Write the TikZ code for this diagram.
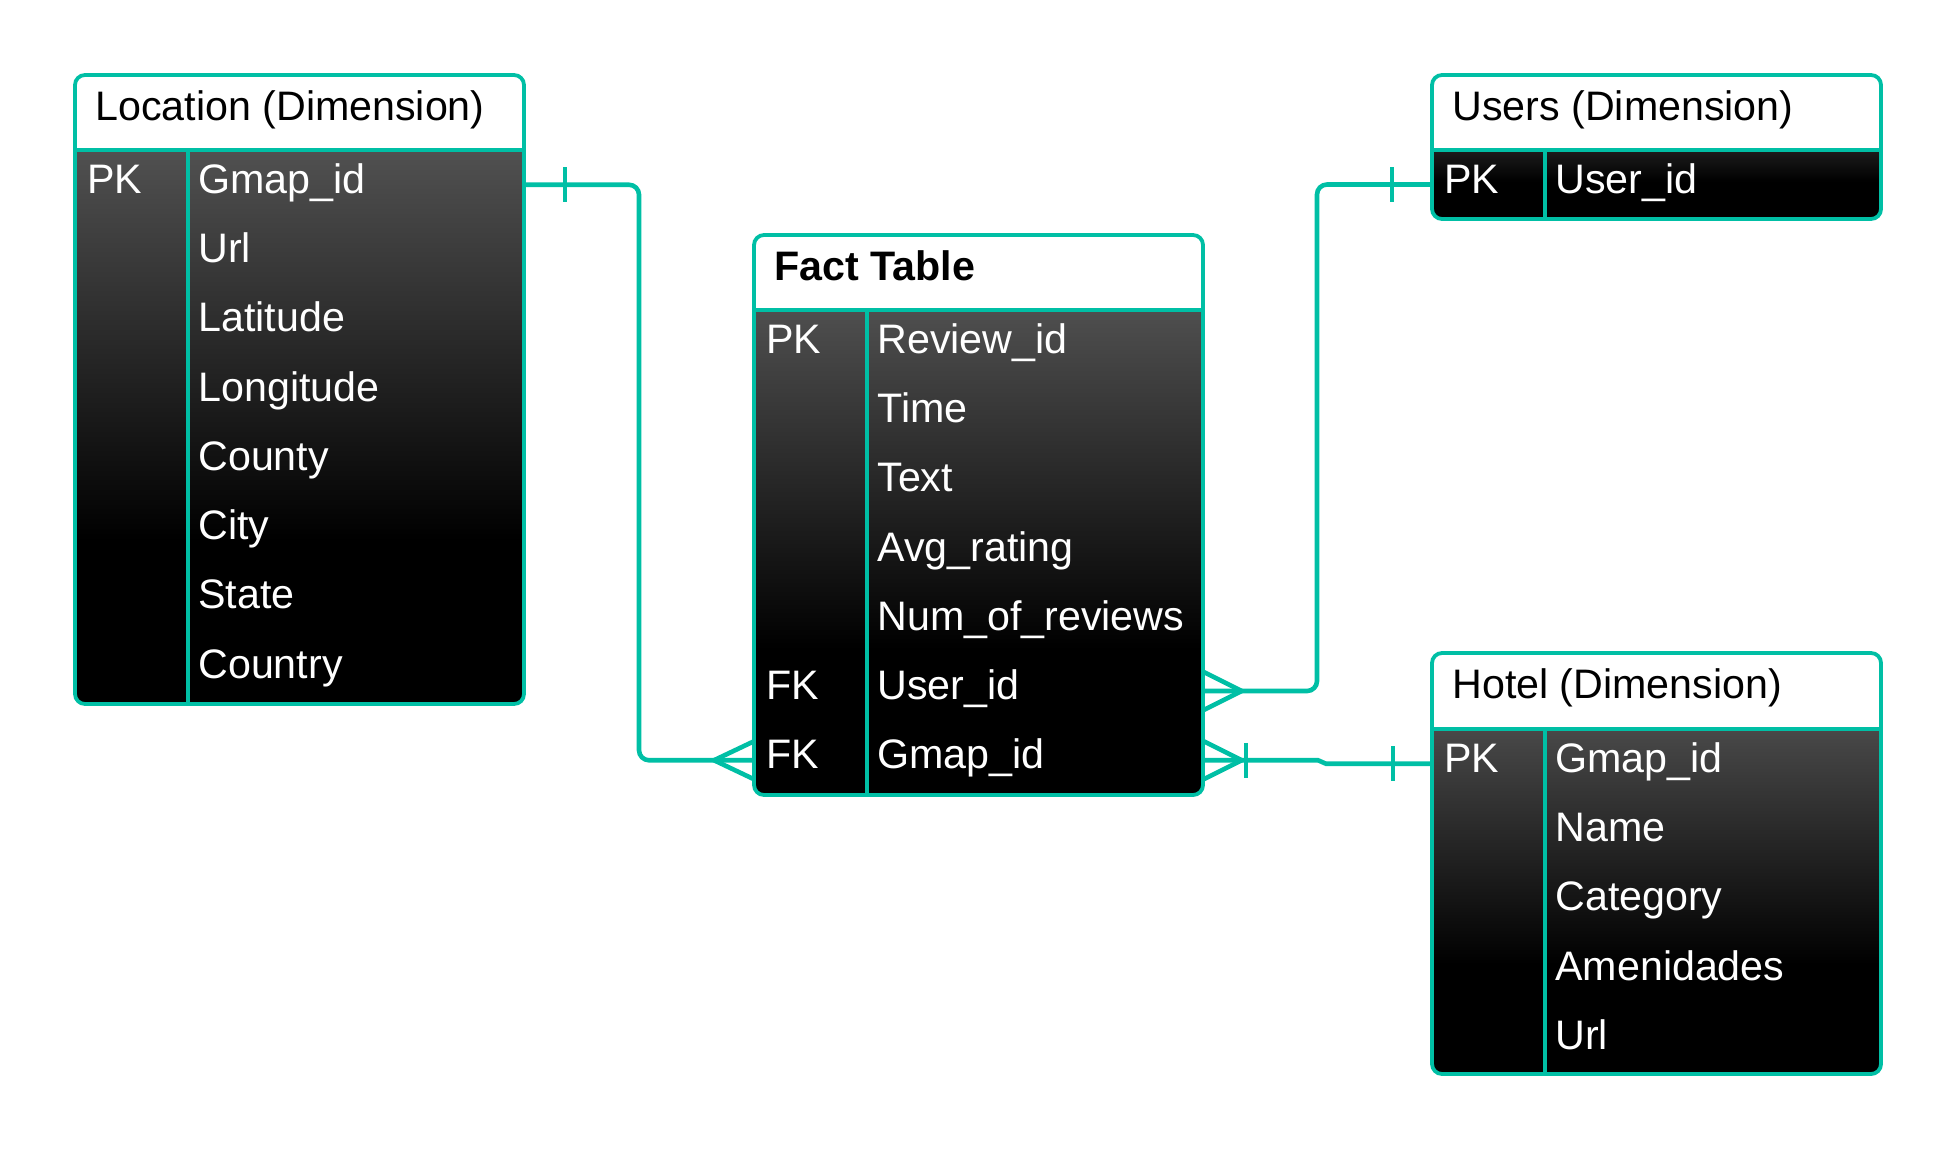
\documentclass[tikz,border=0pt]{standalone}
\usepackage{fontspec}
\setmainfont{Liberation Sans}
\usetikzlibrary{calc}
\definecolor{ERteal}{HTML}{00BFA5}
\definecolor{ERgray}{HTML}{606060}
\pgfdeclareverticalshading{erbody}{100bp}{color(0bp)=(black); color(25bp)=(black);
 color(38bp)=(black); color(75bp)=(ERgray); color(100bp)=(ERgray)}
\tikzset{erframe/.style={draw=ERteal,line width=1.9pt,rounded corners=5pt},
 errule/.style={draw=ERteal,line width=1.9pt},
 ertitle/.style={anchor=west,inner xsep=10pt,text height=13.5pt,text depth=6pt,
 font=\fontsize{20.6}{24}\selectfont},
 erkey/.style={anchor=west,inner xsep=6pt,inner ysep=0pt,text width=44.5pt,align=left,
 text=white,text height=14pt,text depth=5.5pt,font=\fontsize{20.6}{24}\selectfont},
 erfield/.style={erkey,inner xsep=5pt,text width=158pt},
 erlink/.style={draw=ERteal,line width=2.3pt,rounded corners=5pt}}

\begin{document}
\begin{tikzpicture}[x=0.5pt,y=-0.5pt]
\useasboundingbox (0,0) rectangle (1958,1151);
% Location (Dimension)
\begin{scope}
 \clip[rounded corners=5pt] (75,75) rectangle (524,704);
 \clip (75,150) rectangle (524,704);
 \shade[shading=erbody] (75,75) rectangle (524,704);
\end{scope}
\draw[erframe] (75,75) rectangle (524,704);
\draw[errule] (75,150) -- (524,150) (188,150) -- (188,704);
\node[ertitle] (loc) at (75,112.5) {Location (Dimension)};
\foreach \k/\f [count=\i] in {PK/Gmap\_id,/Url,/Latitude,/Longitude,/County,/City,/State,/Country}{
 \node[erkey] (loc-k\i) at (75,115.5+69.25*\i) {\k};
 \node[erfield] (loc-f\i) at (188,115.5+69.25*\i) {\f};
}
% Fact Table
\begin{scope}
 \clip[rounded corners=5pt] (754,235) rectangle (1203,795);
 \clip (754,310) rectangle (1203,795);
 \shade[shading=erbody] (754,235) rectangle (1203,795);
\end{scope}
\draw[erframe] (754,235) rectangle (1203,795);
\draw[errule] (754,310) -- (1203,310) (867,310) -- (867,795);
\node[ertitle] (fact) at (754,272.5) {\textbf{Fact Table}};
\foreach \k/\f [count=\i] in {PK/Review\_id,/Time,/Text,/Avg\_rating,/Num\_of\_reviews,FK/User\_id,FK/Gmap\_id}{
 \node[erkey] (fact-k\i) at (754,275.5+69.25*\i) {\k};
 \node[erfield] (fact-f\i) at (867,275.5+69.25*\i) {\f};
}
% Users (Dimension)
\begin{scope}
 \clip[rounded corners=5pt] (1432,75) rectangle (1881,219);
 \clip (1432,150) rectangle (1881,219);
 \shade[shading=erbody] (1432,75) rectangle (1881,219);
\end{scope}
\draw[erframe] (1432,75) rectangle (1881,219);
\draw[errule] (1432,150) -- (1881,150) (1545,150) -- (1545,219);
\node[ertitle] (usr) at (1432,112.5) {Users (Dimension)};
\node[erkey] (usr-k1) at (1432,184.5) {PK};
\node[erfield] (usr-f1) at (1545,184.5) {User\_id};
% Hotel (Dimension)
\begin{scope}
 \clip[rounded corners=5pt] (1432,653) rectangle (1881,1074);
 \clip (1432,729) rectangle (1881,1074);
 \shade[shading=erbody] (1432,653) rectangle (1881,1074);
\end{scope}
\draw[erframe] (1432,653) rectangle (1881,1074);
\draw[errule] (1432,729) -- (1881,729) (1545,729) -- (1545,1074);
\node[ertitle] (hot) at (1432,691) {Hotel (Dimension)};
\foreach \k/\f [count=\i] in {PK/Gmap\_id,/Name,/Category,/Amenidades,/Url}{
 \node[erkey] (hot-k\i) at (1432,694.5+69.25*\i) {\k};
 \node[erfield] (hot-f\i) at (1545,694.5+69.25*\i) {\f};
}
% relations
\coordinate (bendA) at (639,0);
\coordinate (bendB) at (1317,0);
\coordinate (bendC) at (1318,0);
\draw[erlink] (loc-f1.east) -| (bendA |- fact-k7.west) -- (fact-k7.west);
\draw[erlink] (loc-f1.east) ++(40,-17.5) -- ++(0,35);
\draw[erlink,sharp corners] (fact-k7.west) ++(0,-19) -- ++(-40,19) -- ++(40,19);
\draw[erlink] (usr-k1.west) -| (bendB |- fact-f6.east) -- (fact-f6.east);
\draw[erlink] (usr-k1.west) ++(-40,-17.5) -- ++(0,35);
\draw[erlink,sharp corners] (fact-f6.east) ++(0,-19) -- ++(38,19) -- ++(-38,19);
\draw[erlink,sharp corners] (fact-f7.east) -- (bendC |- fact-f7.east)
 -- ([xshift=4pt]bendC |- hot-k1.west) -- (hot-k1.west);
\draw[erlink,sharp corners] (fact-f7.east) ++(0,-19) -- ++(38,19) -- ++(-38,19);
\draw[erlink] (fact-f7.east) ++(42,-17.5) -- ++(0,35);
\draw[erlink] (hot-k1.west) ++(-39,-17.5) -- ++(0,35);
\end{tikzpicture}
\end{document}
